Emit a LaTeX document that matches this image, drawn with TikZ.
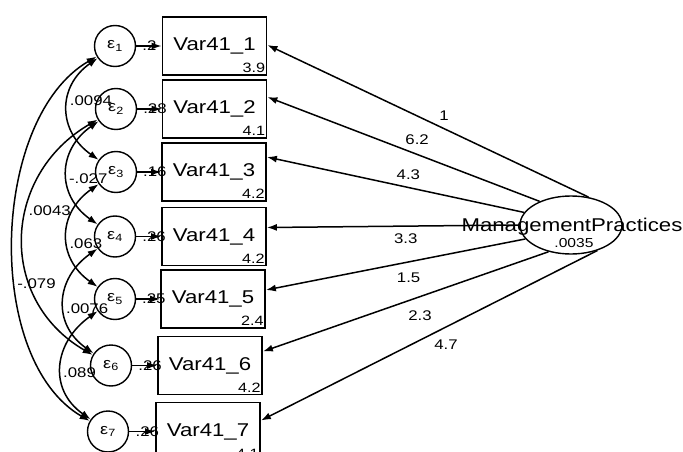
\documentclass[tikz,border=0pt]{standalone}
\usepackage{fontspec}
\newfontfamily\semfont[FakeStretch=1.2]{Liberation Sans}
\usetikzlibrary{shapes.geometric,arrows.meta}
\newcommand{\fsz}[1]{\fontsize{#1}{#1}\selectfont}

\begin{document}
\begin{tikzpicture}[x=1pt,y=-1pt,
  obsbox/.style={draw,line width=1.8pt,minimum width=104pt,minimum height=58pt,inner sep=0pt},
  errnode/.style={draw,circle,line width=1.4pt,minimum size=41pt,inner sep=0pt,font=\semfont\fsz{15}},
  numlab/.style={font=\semfont\fsz{14},inner sep=1pt},
  arr/.style={line width=1.5pt,-{Latex[length=10pt,width=7pt]}},
  cov/.style={line width=1.5pt,{Latex[length=10pt,width=7pt]}-{Latex[length=10pt,width=7pt]}}]
  \useasboundingbox (0,0) rectangle (683,452);
  % observed variables and their errors
  \foreach \i/\bx/\by/\ex/\ic/\ev in {1/214.5/46/115/3.9/.2, 2/214.5/109/116/4.1/.28,
      3/214/172/116/4.2/.16, 4/214/236.5/115/4.2/.26, 5/213/299/115/2.4/.25,
      6/210/365.5/111/4.2/.26, 7/208/431.5/108/4.1/.26}{
    \node[obsbox] (b\i) at (\bx,\by) {};
    \node[font=\semfont\fsz{18.5},inner sep=0pt] (v\i) at (b\i.center) {Var41\_\i};
    \node[font=\semfont\fsz{13.5},inner sep=0pt,anchor=south east] (c\i)
      at ([xshift=-2pt,yshift=3pt]b\i.south east) {\ic};
    \node[errnode] (e\i) at (\ex,\by) {ε\textsubscript{\i}};
    \path (e\i) -- (b\i) node[numlab,pos=0.2,anchor=west] (w\i) {\ev};
    \draw[arr] (e\i) -- (b\i);
  }
  % latent variable
  \node[ellipse,draw,line width=1.4pt,minimum width=102pt,minimum height=58pt] (mp) at (571,225) {};
  \node[font=\semfont\fsz{18.5},inner sep=0pt] (mpname) at (572,227) {ManagementPractices};
  \node[numlab,font=\semfont\fsz{13}] (mpvar) at (574,243) {.0035};
  % loadings
  \foreach \i/\a/\s/\l/\an/\dy in {1/58/1/1/south/6, 2/143/12/6.2/south/8, 3/165/15/4.3/south/6,
      4/180/9/3.3/north/-6, 5/197/9/1.5/north/-9, 6/230/14/2.3/north/-12, 7/316/11/4.7/north/-11}
    \draw[arr] (mp.\a) -- ([yshift=\s pt]b\i.east)
      node[numlab,pos=.45,anchor=\an,yshift=\dy pt] (l\i) {\l};
  % error covariances
  \foreach \p/\q/\k/\t in {1/3/.0094/.42, 2/4/-.027/.55, 3/5/.063/.57, 4/6/.0076/.57, 5/7/.089/.56}
    \draw[cov] (e\p) to[out=215,in=145,looseness=1.25]
      node[numlab,pos=\t,anchor=west] (k\p) {\k} (e\q);
  \draw[cov] (e2) to[out=210,in=150,looseness=1.2] node[numlab,pos=.4,anchor=west] (k26) {.0043} (e6);
  \draw[cov] (e1) to[out=210,in=150,looseness=.86] node[numlab,pos=.6,anchor=west] (k17) {-.079} (e7);
\end{tikzpicture}
\end{document}
